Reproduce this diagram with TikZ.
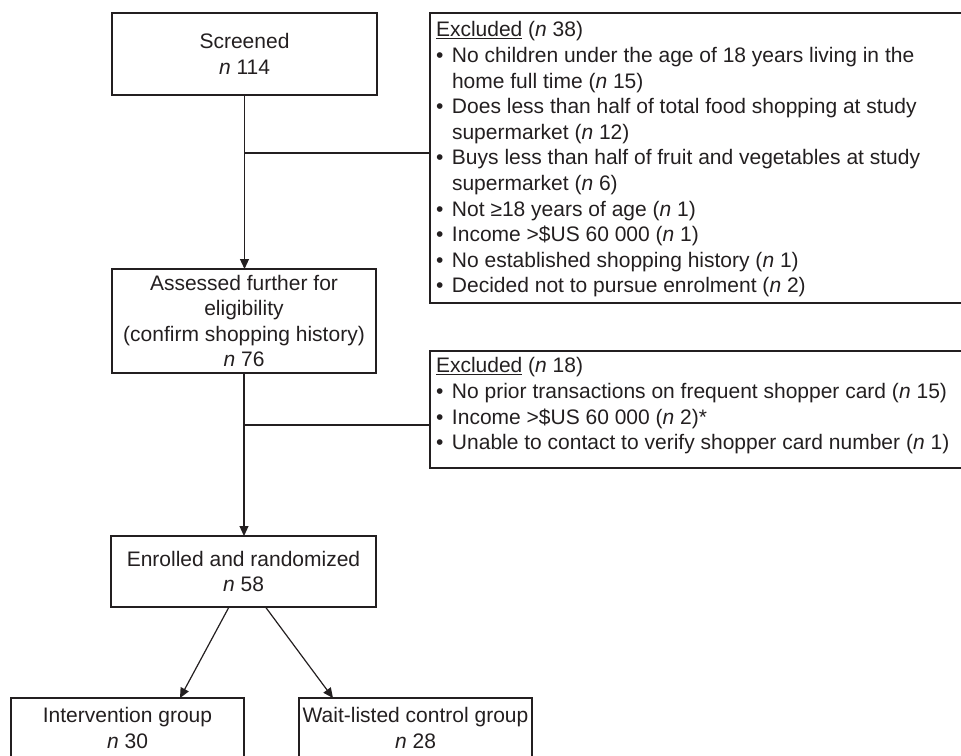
\documentclass[tikz,border=0pt]{standalone}
\usepackage{fontspec}
\setmainfont{Liberation Sans}
\usetikzlibrary{arrows.meta,calc}
\definecolor{ink}{RGB}{35,31,32}
\newcommand\flowfont{\fontsize{21}{25.6}\selectfont}
\newcommand\bul{\makebox[16pt][l]{•}}
\newcommand\ind{\hspace*{16pt}}
\begin{document}
\begin{tikzpicture}[x=1pt,y=-1pt,
  box/.style={draw=ink, line width=1.8pt, inner sep=0pt, outer sep=0pt, align=center, font=\flowfont, text=ink},
  exbox/.style={draw=ink, line width=1.8pt, inner sep=0pt, outer sep=0pt},
  extext/.style={inner sep=0pt, outer sep=0pt, align=left, font=\flowfont, text=ink},
  conn/.style={draw=ink, line width=1.2pt},
  arr/.style={conn, -{Triangle[length=10pt,width=9pt]}}]
\useasboundingbox (0,0) rectangle (961,755);
\clip (0,0) rectangle (961,755);

\node[box, minimum width=265pt, minimum height=82pt] (scr) at (244.5,54) {Screened\\\textit{n} 114};
\node[box, minimum width=264pt, minimum height=104pt] (ass) at (244,321) {Assessed further for\\eligibility\\(confirm shopping history)\\\textit{n} 76};
\node[box, minimum width=265pt, minimum height=71pt] (enr) at (243.5,571.5) {Enrolled and randomized\\\textit{n} 58};
\node[box, minimum width=233pt, minimum height=60pt] (int) at (127.5,728) {Intervention group\\\textit{n} 30};
\node[box, minimum width=233pt, minimum height=60pt] (wait) at (415.5,728) {Wait-listed control group\\\textit{n} 28};

\node[exbox, minimum width=545pt, minimum height=290pt, anchor=north west] (ex1) at (430,13) {};
\node[extext, anchor=north west] (ex1t) at (436,21.7) {\underline{Excluded} (\textit{n} 38)\\
\bul No children under the age of 18 years living in the\\
\ind home full time (\textit{n} 15)\\
\bul Does less than half of total food shopping at study\\
\ind supermarket (\textit{n} 12)\\
\bul Buys less than half of fruit and vegetables at study\\
\ind supermarket (\textit{n} 6)\\
\bul Not ≥18 years of age (\textit{n} 1)\\
\bul Income >\$US 60 000 (\textit{n} 1)\\
\bul No established shopping history (\textit{n} 1)\\
\bul Decided not to pursue enrolment (\textit{n} 2)};

\node[exbox, minimum width=545pt, minimum height=117pt, anchor=north west] (ex2) at (430,351) {};
\node[extext, anchor=north west] (ex2t) at (436,357.7) {\underline{Excluded} (\textit{n} 18)\\
\bul No prior transactions on frequent shopper card (\textit{n} 15)\\
\bul Income >\$US 60 000 (\textit{n} 2)*\\
\bul Unable to contact to verify shopper card number (\textit{n} 1)};

\draw[arr] (scr.south) -- (scr.south |- ass.north);
\path (scr.south) ++(0,58) coordinate (j1);
\draw[conn] (j1) -- (j1 -| ex1.west);
\draw[arr] (ass.south) -- (ass.south |- enr.north);
\path (ass.south) ++(0,52) coordinate (j2);
\draw[conn] (j2) -- (j2 -| ex2.west);
\draw[arr] ($(enr.south)+(-14.5,0)$) -- ($(int.north west)+(169,0)$);
\draw[arr] ($(enr.south)+(22,0)$) -- ($(wait.north west)+(34,0)$);
\end{tikzpicture}
\end{document}
